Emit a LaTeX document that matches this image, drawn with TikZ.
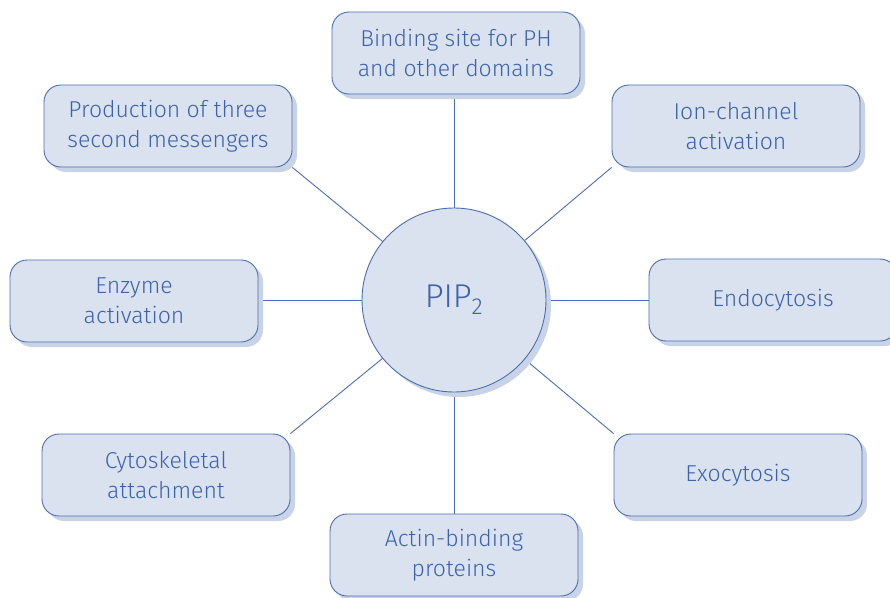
\documentclass[tikz,border=0pt]{standalone}
\usepackage{fontspec}
\setmainfont{Fira Sans Light}
\usetikzlibrary{shadows,backgrounds}
\definecolor{boxfill}{HTML}{DAE2EF}
\definecolor{boxline}{HTML}{4A6FB0}
\definecolor{boxtext}{HTML}{3D63AE}
\definecolor{boxshade}{HTML}{C8D3E6}
\begin{document}
\begin{tikzpicture}[x=1pt,y=-1pt]
\tikzstyle{role}=[draw=boxline,fill=boxfill,text=boxtext,rounded corners=17pt,
minimum width=248pt,minimum height=82pt,align=center,font=\fontsize{23}{30}\selectfont,
line width=0.9pt,drop shadow={shadow xshift=5pt,shadow yshift=-5pt,fill=boxshade,opacity=1}]
\tikzstyle{link}=[draw=boxline,line width=0.9pt]
\useasboundingbox (0,0) rectangle (890,597);

\draw (454,300) node (pip) [circle,draw=boxline,fill=boxfill,text=boxtext,minimum size=184pt,
line width=0.9pt,font=\fontsize{33}{38}\selectfont,
drop shadow={shadow xshift=5pt,shadow yshift=-5pt,fill=boxshade,opacity=1}] {PIP\textsubscript{2}};

\draw (456,53)  node (bind) [role] {Binding site for PH\\and other domains};
\draw (168,126) node (prod) [role] {Production of three\\second messengers};
\draw (736,126) node (ion)  [role] {Ion-channel\\activation};
\draw (134,301) node (enz)  [role] {Enzyme\\activation};
\draw (773,300) node (endo) [role] {Endocytosis};
\draw (166,475) node (cyto) [role] {Cytoskeletal\\attachment};
\draw (738,475) node (exo)  [role] {Exocytosis};
\draw (454,555) node (actin) [role] {Actin-binding\\proteins};

\begin{scope}[on background layer]
\draw [link] (pip.center) -- (pip.center |- bind.south);
\draw [link] (pip.center) -- (prod.south east);
\draw [link] (pip.center) -- (ion.south west);
\draw [link] (pip.center) -- (pip.center -| enz.east);
\draw [link] (pip.center) -- (pip.center -| endo.west);
\draw [link] (pip.center) -- (cyto.north east);
\draw [link] (pip.center) -- (exo.north west);
\draw [link] (pip.center) -- (pip.center |- actin.north);
\end{scope}
\end{tikzpicture}
\end{document}
